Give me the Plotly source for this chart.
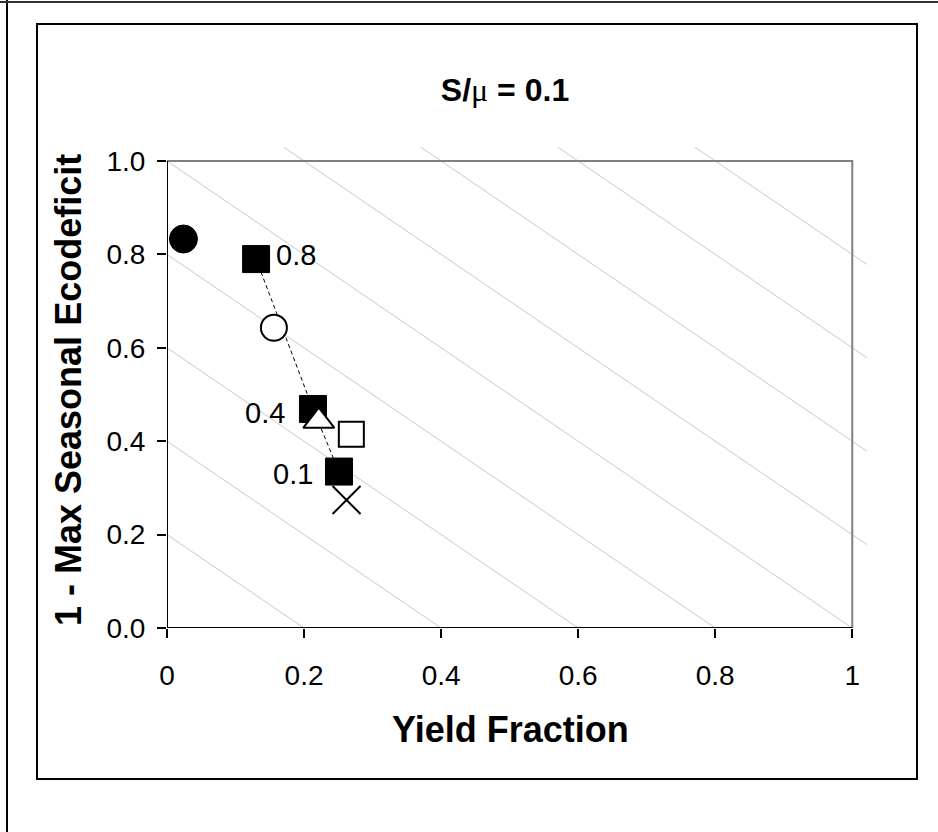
import plotly.graph_objects as go

# ---------------- data ----------------
title_text = "S/<span style='font-family:Liberation Serif;font-weight:normal'>μ</span> = 0.1"
x_title = "Yield Fraction"
y_title = "1 - Max Seasonal Ecodeficit"

x_tickvals = [0, 0.2, 0.4, 0.6, 0.8, 1.0]
x_ticktext = ["0", "0.2", "0.4", "0.6", "0.8", "1"]
y_tickvals = [0.0, 0.2, 0.4, 0.6, 0.8, 1.0]
y_ticktext = ["0.0", "0.2", "0.4", "0.6", "0.8", "1.0"]

# iso-lines x + y = c
iso_levels = [0.2, 0.4, 0.6, 0.8, 1.0, 1.2, 1.4, 1.6, 1.8]

# filled squares joined by dashed line, labelled
sq_x = [0.130, 0.213, 0.251]
sq_y = [0.790, 0.469, 0.335]
sq_labels = ["0.8", "0.4", "0.1"]

filled_circle_x = [0.024]
filled_circle_y = [0.833]
open_circle_x = [0.156]
open_circle_y = [0.643]
triangle_x = [0.2215]
triangle_y = [0.443]
open_square_x = [0.269]
open_square_y = [0.415]
cross_x = [0.262]
cross_y = [0.274]

# ---------------- layout geometry ----------------
W, H = 938, 832
L, R, T, B = 167, 71, 147, 204
XMAX, YMAX = 1.0215, 1.03
PW, PH = W - L - R, H - T - B


def px(xp):
    return (xp - L) / PW


def py(yp):
    return (H - B - yp) / PH


FONT = "Liberation Sans, Arial, sans-serif"

fig = go.Figure()

# iso lines
lx, ly = [], []
for c in iso_levels:
    x0 = max(0.0, c - YMAX)
    x1 = min(c, XMAX)
    lx += [x0, x1, None]
    ly += [c - x0, c - x1, None]
fig.add_trace(go.Scatter(x=lx, y=ly, mode="lines",
                         line=dict(color="#c8c8c8", width=1),
                         hoverinfo="skip", showlegend=False))

# dashed connection
fig.add_trace(go.Scatter(x=sq_x, y=sq_y, mode="lines",
                         line=dict(color="black", width=1, dash="4px,3px"),
                         showlegend=False))

fig.add_trace(go.Scatter(x=filled_circle_x, y=filled_circle_y, mode="markers",
                         marker=dict(symbol="circle", size=28, color="black",
                                     line=dict(color="black", width=1)),
                         showlegend=False))
fig.add_trace(go.Scatter(x=open_circle_x, y=open_circle_y, mode="markers",
                         marker=dict(symbol="circle", size=26, color="white",
                                     line=dict(color="black", width=2)),
                         showlegend=False))
fig.add_trace(go.Scatter(x=sq_x, y=sq_y, mode="markers",
                         marker=dict(symbol="square", size=27, color="black",
                                     line=dict(color="black", width=1)),
                         showlegend=False))
fig.add_trace(go.Scatter(x=triangle_x, y=triangle_y, mode="markers",
                         marker=dict(symbol="triangle-up", size=27, color="white",
                                     line=dict(color="black", width=2)),
                         showlegend=False))
fig.add_trace(go.Scatter(x=open_square_x, y=open_square_y, mode="markers",
                         marker=dict(symbol="square", size=25, color="white",
                                     line=dict(color="black", width=2)),
                         showlegend=False))
fig.add_trace(go.Scatter(x=cross_x, y=cross_y, mode="markers",
                         marker=dict(symbol="x-thin-open", size=28, color="black",
                                     line=dict(color="black", width=2)),
                         showlegend=False))

# labels next to squares
label_pos = [dict(xanchor="left", xshift=18, yshift=4),
             dict(xanchor="right", xshift=-26, yshift=-4),
             dict(xanchor="right", xshift=-24, yshift=-2)]
for x, y, t, p in zip(sq_x, sq_y, sq_labels, label_pos):
    fig.add_annotation(x=x, y=y, text=t, showarrow=False,
                       font=dict(family=FONT, size=29, color="black"),
                       xanchor=p["xanchor"], yanchor="middle",
                       xshift=p["xshift"], yshift=p["yshift"])

# axis titles
fig.add_annotation(xref="paper", yref="paper", x=px(510), y=py(729),
                   text="<b>%s</b>" % x_title, showarrow=False,
                   font=dict(family=FONT, size=36, color="black"),
                   xanchor="center", yanchor="middle")
fig.add_annotation(xref="paper", yref="paper", x=px(68), y=py(390),
                   text="<b>%s</b>" % y_title, showarrow=False, textangle=-90,
                   font=dict(family=FONT, size=36, color="black"),
                   xanchor="center", yanchor="middle")

# frames
shapes = []
# plot area frame (grey) and black left/bottom axes
shapes.append(dict(type="rect", xref="x", yref="y", x0=0, y0=0, x1=1, y1=1,
                   line=dict(color="#808080", width=2), layer="above"))
shapes.append(dict(type="line", xref="x", yref="y", x0=0, y0=0, x1=1, y1=0,
                   line=dict(color="black", width=2), layer="above"))
shapes.append(dict(type="line", xref="x", yref="y", x0=0, y0=0, x1=0, y1=1,
                   line=dict(color="black", width=2), layer="above"))
# inner chart border
shapes.append(dict(type="rect", xref="paper", yref="paper",
                   x0=px(37), y0=py(779), x1=px(917), y1=py(24),
                   line=dict(color="black", width=2)))
# outer edges
shapes.append(dict(type="line", xref="paper", yref="paper",
                   x0=px(7), y0=py(0), x1=px(7), y1=py(832),
                   line=dict(color="black", width=2)))
shapes.append(dict(type="line", xref="paper", yref="paper",
                   x0=px(0), y0=py(2), x1=px(938), y1=py(2),
                   line=dict(color="#333333", width=2)))

fig.update_layout(
    width=W, height=H,
    margin=dict(l=L, r=R, t=T, b=B, pad=0),
    paper_bgcolor="white", plot_bgcolor="white",
    showlegend=False,
    shapes=shapes,
    title=dict(text="<b>%s</b>" % title_text, x=505 / W, y=1 - 90 / H,
               xref="container", yref="container",
               xanchor="center", yanchor="middle",
               font=dict(family=FONT, size=32, color="black")),
    xaxis=dict(range=[0, XMAX], showgrid=False, zeroline=False, showline=False,
               tickmode="array", tickvals=x_tickvals, ticktext=x_ticktext,
               ticks="outside", ticklen=9, tickwidth=1.5, tickcolor="black",
               ticklabelstandoff=13,
               tickfont=dict(family=FONT, size=28, color="black")),
    yaxis=dict(range=[0, YMAX], showgrid=False, zeroline=False, showline=False,
               tickmode="array", tickvals=y_tickvals, ticktext=y_ticktext,
               ticks="outside", ticklen=9, tickwidth=1.5, tickcolor="black",
               ticklabelstandoff=6,
               tickfont=dict(family=FONT, size=28, color="black")),
)

fig.write_html("out.html")
